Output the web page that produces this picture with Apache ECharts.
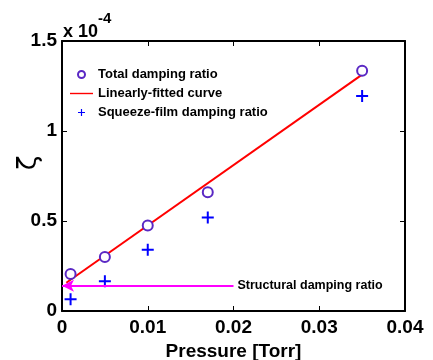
<!DOCTYPE html>
<html>
<head>
<meta charset="utf-8">
<script src="https://cdn.jsdelivr.net/npm/echarts@6/dist/echarts.min.js"></script>
<style>
  html, body { margin: 0; padding: 0; background: #fff; }
  #chart { width: 433px; height: 360px; }
</style>
</head>
<body>
<div id="chart"></div>
<script>
// pressure values (Torr), damping ratios in units of 1e-4
var pressure = [0.001, 0.005, 0.01, 0.017, 0.035];
var totalDamping = [0.205, 0.30, 0.475, 0.66, 1.335];
var squeezeDamping = [0.065, 0.165, 0.34, 0.52, 1.195];
// fitted line end points
var fitX = [0.0005, 0.0352];
var fitY = [0.157, 1.32];
// structural damping arrow
var structX = [0.02, 0];
var structY = 0.14;
var xTicks = ['0', '0.01', '0.02', '0.03', '0.04'];
var yTicks = ['0', '0.5', '1', '1.5'];

var font = 'Liberation Sans, Arial, sans-serif';
var plusPath = 'path://M5,0h2v12h-2z M0,5h12v2h-12z';

function pairs(xs, ys) {
  return xs.map(function (x, i) { return [x, ys[i]]; });
}

var chart = echarts.init(document.getElementById('chart'));
var axisLine = { show: true, onZero: false, lineStyle: { color: '#000', width: 2 } };
var tick = { show: true, inside: true, length: 5, lineStyle: { color: '#000', width: 1 } };

var option = {
  animation: false,
  backgroundColor: '#fff',
  textStyle: { fontFamily: font },
  title: {
    left: 58, top: 6,
    text: '{a|x 10}{b|-4}',
    textStyle: {
      rich: {
        a: { fontSize: 18, fontWeight: 'bold', color: '#000', fontFamily: font, verticalAlign: 'bottom', lineHeight: 30 },
        b: { fontSize: 15, fontWeight: 'bold', color: '#000', fontFamily: font, verticalAlign: 'top', lineHeight: 30 }
      }
    }
  },
  grid: { left: 62, top: 41, right: 28, bottom: 49, outerBoundsMode: 'none', containLabel: false },
  legend: {
    left: 70, top: 68, padding: 0,
    orient: 'vertical',
    itemWidth: 23, itemHeight: 7, itemGap: 6,
    textStyle: { fontSize: 13, fontWeight: 'bold', color: '#000', fontFamily: font },
    data: [
      { name: 'Total damping ratio' },
      { name: 'Linearly-fitted curve', icon: 'path://M0,0h23v1.4h-23z' },
      { name: 'Squeeze-film damping ratio' }
    ]
  },
  xAxis: [{
    type: 'value', min: 0, max: 0.04, interval: 0.01,
    name: 'Pressure [Torr]', nameLocation: 'middle', nameGap: 29,
    nameTextStyle: { fontSize: 19, fontWeight: 'bold', color: '#000', fontFamily: font },
    axisLine: axisLine, axisTick: tick, splitLine: { show: false },
    axisLabel: {
      margin: 7, fontSize: 19, fontWeight: 'bold', color: '#000', fontFamily: font,
      formatter: function (v) { return xTicks[Math.round(v / 0.01)]; }
    }
  }, {
    type: 'value', min: 0, max: 0.04, interval: 0.01, position: 'top',
    axisLine: axisLine, axisTick: tick, splitLine: { show: false }, axisLabel: { show: false }
  }],
  yAxis: [{
    type: 'value', min: 0, max: 1.5, interval: 0.5,
    name: 'ζ', nameLocation: 'middle', nameGap: 20, nameRotate: 90, nameMoveOverlap: false,
    nameTextStyle: { fontSize: 27, color: '#000', fontFamily: 'DejaVu Sans, sans-serif', padding: [0, 0, 0, 26] },
    axisLine: axisLine, axisTick: tick, splitLine: { show: false },
    axisLabel: {
      margin: 5, fontSize: 19, fontWeight: 'bold', color: '#000', fontFamily: font,
      formatter: function (v) { return yTicks[Math.round(v / 0.5)]; }
    }
  }, {
    type: 'value', min: 0, max: 1.5, interval: 0.5, position: 'right',
    axisLine: axisLine, axisTick: tick, splitLine: { show: false }, axisLabel: { show: false }
  }],
  series: [{
    name: 'Total damping ratio',
    type: 'scatter',
    symbol: 'emptyCircle',
    symbolSize: 10,
    itemStyle: { color: '#5a28c4', borderWidth: 1.5, opacity: 1 },
    data: pairs(pressure, totalDamping),
    z: 5
  }, {
    name: 'Linearly-fitted curve',
    type: 'line',
    showSymbol: false,
    symbol: 'none',
    lineStyle: { color: '#ff0000', width: 2 },
    itemStyle: { color: '#ff0000' },
    data: pairs(fitX, fitY),
    markLine: {
      silent: true,
      symbol: ['none', 'arrow'],
      symbolSize: [9, 12],
      lineStyle: { color: '#ff00ff', width: 2, type: 'solid' },
      label: {
        show: true, position: 'start', distance: 4,
        formatter: 'Structural damping ratio',
        fontSize: 12.5, fontWeight: 'bold', color: '#000', fontFamily: font
      },
      data: [[{ coord: [structX[0], structY] }, { coord: [structX[1], structY] }]]
    }
  }, {
    name: 'Squeeze-film damping ratio',
    type: 'scatter',
    symbol: plusPath,
    symbolSize: 12,
    itemStyle: { color: '#0000ff', opacity: 1 },
    data: pairs(pressure, squeezeDamping)
  }]
};
chart.setOption(option);
</script>
</body>
</html>
